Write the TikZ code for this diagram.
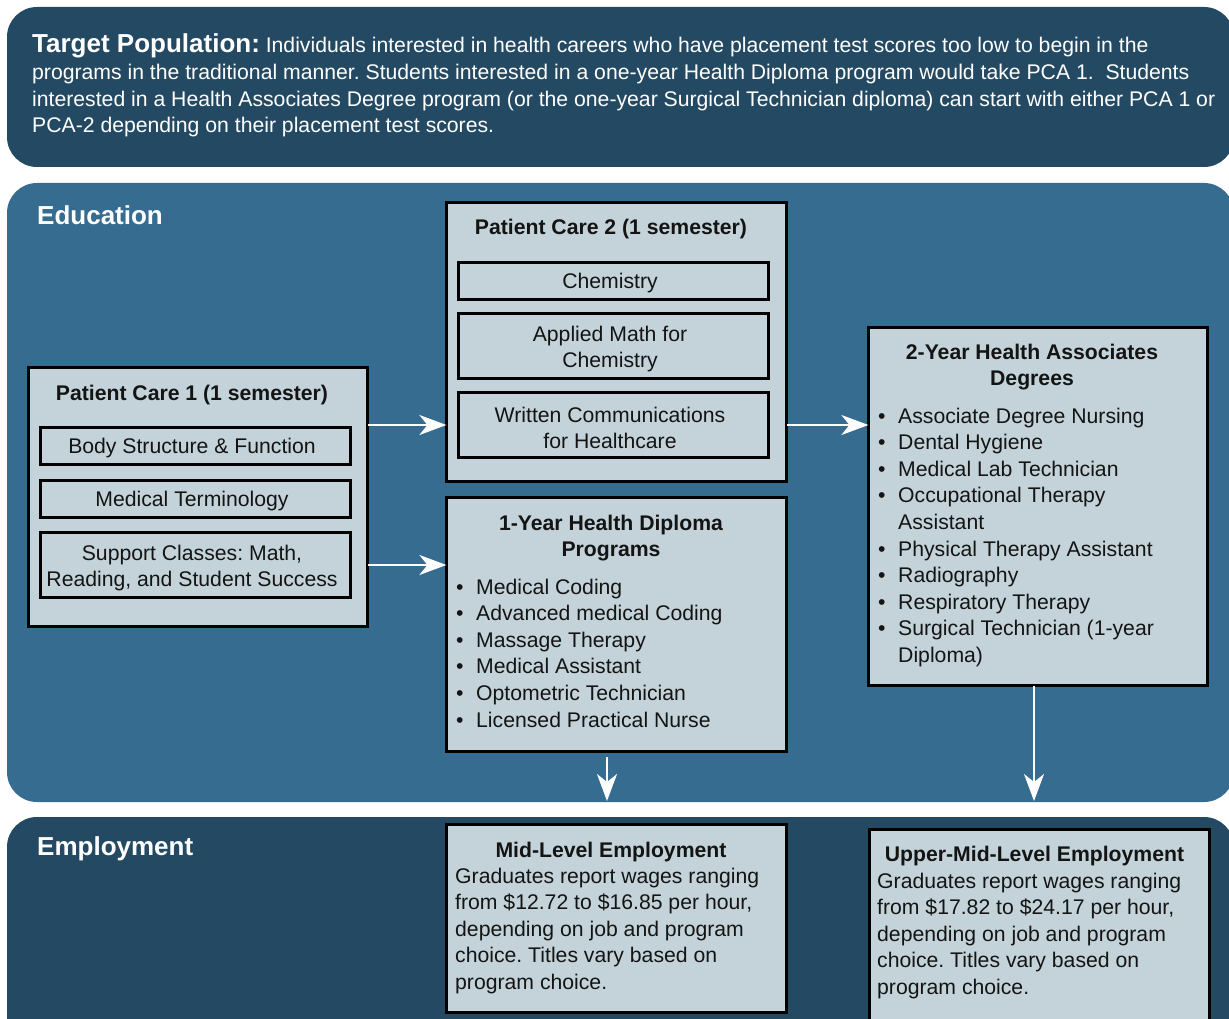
\documentclass[tikz,border=0pt]{standalone}
\usepackage{fontspec}
\setmainfont{Liberation Sans}
\usetikzlibrary{arrows.meta}

\definecolor{navy}{HTML}{244A63}
\definecolor{edublue}{HTML}{356C90}
\definecolor{boxfill}{HTML}{C3D3D9}
\definecolor{ink}{HTML}{141414}

\newcommand\bodyfont{\fontsize{21.2}{26.6}\selectfont}
\newcommand\headfont{\fontsize{26}{30}\selectfont\bfseries}
% rows of text whose first baseline is the node's base
\newcommand\txtrows[2]{\begin{tabular}[t]{@{}#1@{}}#2\end{tabular}}
\newcommand\bul{\makebox[20pt][l]{•}}
\newcommand\cont{\hspace*{20pt}}
% centred course names sit a little left of, and below, their box centre
\newcommand\rpad{\hspace*{7pt}}
\newcommand\onestrut{\rule{0pt}{18.4pt}}
\newcommand\twostrut{\rule{0pt}{21pt}}

\tikzset{
  bigbox/.style={draw=black, line width=2.8pt, fill=boxfill, anchor=north west,
    inner sep=0pt, outer sep=0pt},
  inbox/.style={draw=black, line width=2.6pt, fill=boxfill, anchor=north west,
    inner sep=0pt, outer sep=0pt, font=\bodyfont, text=ink, align=center},
  boxtext/.style={inner sep=0pt, font=\bodyfont, text=ink},
  paneltext/.style={inner sep=0pt, text=white, anchor=base west},
  flow/.style={draw=white, line width=2.2pt,
    -{Stealth[length=27pt,width=20pt,inset=8pt]}},
}

\begin{document}
\frenchspacing
\begin{tikzpicture}[x=1pt,y=-1pt]
\useasboundingbox (0,0) rectangle (1229,1019);
\clip (0,0) rectangle (1229,1019);
\fill[white] (0,0) rectangle (1229,1019);

% background bands
\fill[navy, rounded corners=30pt] (7,7) rectangle (1234,167);
\fill[edublue, rounded corners=30pt] (7,183) rectangle (1234,802);
\fill[navy, rounded corners=30pt] (7,817) rectangle (1234,1060);

% header text
\node[paneltext, font=\bodyfont] (target) at (32,53) {\txtrows{l}{%
  {\headfont Target Population:} Individuals interested in health careers who have placement test scores too low to begin in the\\
  programs in the traditional manner. Students interested in a one-year Health Diploma program would take PCA 1.\ \ Students\\
  interested in a Health Associates Degree program (or the one-year Surgical Technician diploma) can start with either PCA 1 or\\
  PCA-2 depending on their placement test scores.}};

\node[paneltext, font=\headfont] (edu) at (37,225) {Education};
\node[paneltext, font=\headfont] (emp) at (37,855) {Employment};

% Patient Care 1
\node[bigbox, minimum width=339.2pt, minimum height=259.2pt] (pc1) at (28.4,367.4) {};
\node[boxtext, anchor=base, font=\bodyfont\bfseries] (pc1t) at (192,400) {Patient Care 1 (1 semester)};
\node[inbox, minimum width=310.4pt, minimum height=37.4pt] (bsf) at (40.3,427.3) {\onestrut Body Structure \& Function\rpad};
\node[inbox, minimum width=310.4pt, minimum height=37.4pt] (mt) at (40.3,480.3) {\onestrut Medical Terminology\rpad};
\node[inbox, minimum width=310.4pt, minimum height=65.4pt] (sup) at (40.3,532.3) {\twostrut Support Classes: Math,\rpad\\Reading, and Student Success\rpad};

% Patient Care 2
\node[bigbox, minimum width=340.2pt, minimum height=279.2pt] (pc2) at (446.4,202.4) {};
\node[boxtext, anchor=base, font=\bodyfont\bfseries] (pc2t) at (611,235) {Patient Care 2 (1 semester)};
\node[inbox, minimum width=310.4pt, minimum height=37.4pt] (chem) at (458.3,262.3) {\onestrut Chemistry\rpad};
\node[inbox, minimum width=310.4pt, minimum height=65.4pt] (amc) at (458.3,313.3) {\twostrut Applied Math for\rpad\\Chemistry\rpad};
\node[inbox, minimum width=310.4pt, minimum height=65.4pt] (wc) at (458.3,392.3) {\twostrut Written Communications\rpad\\for Healthcare\rpad};

% 1-Year diploma
\node[bigbox, minimum width=340.2pt, minimum height=254.2pt] (dip) at (446.4,497.4) {};
\node[boxtext, anchor=base, font=\bodyfont\bfseries] (dipt) at (611,530) {\txtrows{c}{1-Year Health Diploma\\Programs}};
\node[boxtext, anchor=base west] (dipl) at (456,594) {\txtrows{l}{%
  \bul Medical Coding\\
  \bul Advanced medical Coding\\
  \bul Massage Therapy\\
  \bul Medical Assistant\\
  \bul Optometric Technician\\
  \bul Licensed Practical Nurse}};

% 2-Year associates
\node[bigbox, minimum width=339.2pt, minimum height=358.2pt] (assoc) at (868.4,327.4) {};
\node[boxtext, anchor=base, font=\bodyfont\bfseries] (assoct) at (1032,359) {\txtrows{c}{2-Year Health Associates\\Degrees}};
\node[boxtext, anchor=base west] (assocl) at (878,423) {\txtrows{l}{%
  \bul Associate Degree Nursing\\
  \bul Dental Hygiene\\
  \bul Medical Lab Technician\\
  \bul Occupational Therapy\\
  \cont Assistant\\
  \bul Physical Therapy Assistant\\
  \bul Radiography\\
  \bul Respiratory Therapy\\
  \bul Surgical Technician (1-year\\
  \cont Diploma)}};

% employment outcomes
\node[bigbox, minimum width=340.2pt, minimum height=188.2pt] (mid) at (446.4,824.4) {};
\node[boxtext, anchor=base, font=\bodyfont\bfseries] (midt) at (611,857) {Mid-Level Employment};
\node[boxtext, anchor=base west] (midx) at (455,883) {\txtrows{l}{%
  Graduates report wages ranging\\
  from \$12.72 to \$16.85 per hour,\\
  depending on job and program\\
  choice. Titles vary based on\\
  program choice.}};

\node[bigbox, minimum width=340.2pt, minimum height=230pt] (upper) at (869.4,829.4) {};
\node[boxtext, anchor=base, font=\bodyfont\bfseries] (uppert) at (1034.5,861) {Upper-Mid-Level Employment};
\node[boxtext, anchor=base west] (upperx) at (877,888) {\txtrows{l}{%
  Graduates report wages ranging\\
  from \$17.82 to \$24.17 per hour,\\
  depending on job and program\\
  choice. Titles vary based on\\
  program choice.}};

% connectors
\draw[flow] (wc.center -| pc1.east) -- (wc.center -| pc2.west);
\draw[flow] (sup.center -| pc1.east) -- (sup.center -| dip.west);
\draw[flow] (wc.center -| pc2.east) -- (wc.center -| assoc.west);
\coordinate (d1s) at (607,757);
\coordinate (d1e) at (607,801);
\draw[flow] (d1s) -- (d1e);
\coordinate (d2e) at (1034,801);
\draw[flow] (assoc.south -| d2e) -- (d2e);
\end{tikzpicture}
\end{document}
